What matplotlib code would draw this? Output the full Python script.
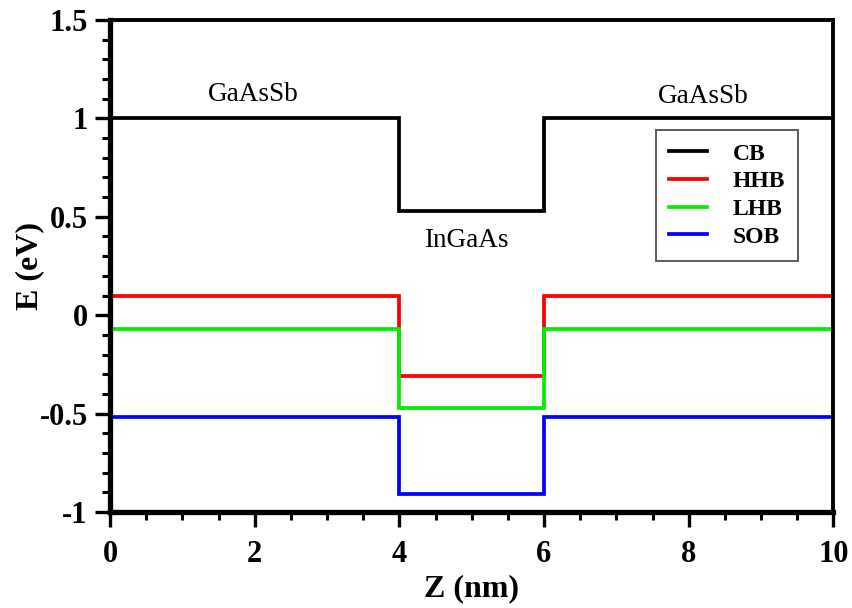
import matplotlib.pyplot as plt
import numpy as np

plt.rcParams['font.family'] = ['Liberation Serif', 'DejaVu Serif']

# band edges: barrier (GaAsSb) / well (InGaAs) / barrier
z_edges = [0, 4, 6, 10]
cb = [1.0, 0.53, 1.0]
hhb = [0.10, -0.31, 0.10]
lhb = [-0.07, -0.47, -0.07]
sob = [-0.52, -0.91, -0.52]
bands = [("CB", cb, "black"), ("HHB", hhb, "red"),
         ("LHB", lhb, "#00ee00"), ("SOB", sob, "blue")]

fig = plt.figure(figsize=(8.53, 6.08), dpi=100)
ax = fig.add_axes([0.129, 0.158, 0.848, 0.809])

for name, vals, col in bands:
    ax.stairs(vals, z_edges, color=col, lw=2.7, label=name, baseline=None)

ax.set_xlim(0, 10)
ax.set_ylim(-1, 1.5)
ax.set_xticks([0, 2, 4, 6, 8, 10])
ax.set_yticks([-1, -0.5, 0, 0.5, 1, 1.5])
ax.set_yticklabels(["-1", "-0.5", "0", "0.5", "1", "1.5"])
ax.set_xticks(np.arange(0, 10.01, 0.5), minor=True)
ax.set_yticks(np.arange(-1, 1.51, 0.1), minor=True)
ax.tick_params(which='major', direction='out', length=11, width=2.4,
               labelsize=22, top=False, right=False)
ax.tick_params(which='minor', direction='out', length=5.5, width=2.2,
               top=False, right=False)
ax.tick_params(axis='x', which='major', pad=9)
ax.tick_params(axis='y', which='major', pad=5)
for lab in ax.get_xticklabels() + ax.get_yticklabels():
    lab.set_fontweight('bold')

for side in ['left', 'bottom']:
    ax.spines[side].set_linewidth(3.8)
for side in ['top', 'right']:
    ax.spines[side].set_linewidth(2.8)

ax.set_xlabel("Z (nm)", fontsize=23, fontweight='bold', labelpad=4)
ax.set_ylabel("E (eV)", fontsize=23, fontweight='bold', labelpad=-3)

ax.text(1.98, 1.12, "GaAsSb", fontsize=19.5, ha='center', va='center')
ax.text(8.2, 1.11, "GaAsSb", fontsize=19.5, ha='center', va='center')
ax.text(4.92, 0.38, "InGaAs", fontsize=19.5, ha='center', va='center')

leg = ax.legend(loc='upper left', bbox_to_anchor=(0.755, 0.776),
                frameon=True, fancybox=False, handlelength=1.6,
                prop={'weight': 'bold', 'size': 17}, borderpad=0.55,
                labelspacing=0.26, handletextpad=1.1, borderaxespad=0)
leg.get_frame().set_edgecolor('#333333')
leg.get_frame().set_linewidth(1.4)

fig.savefig("out.png", dpi=100)
